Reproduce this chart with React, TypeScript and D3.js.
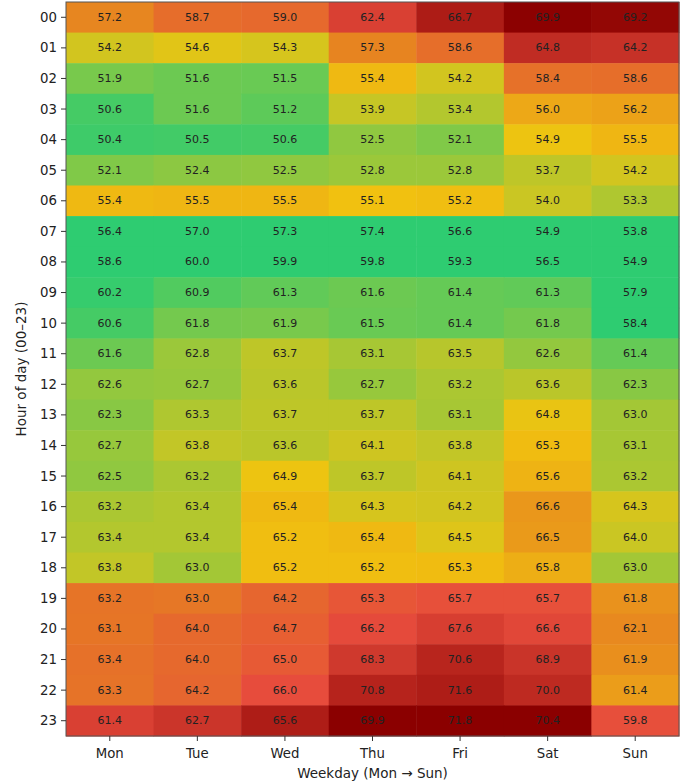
import React from "react";
import * as d3 from "d3";

const days = ["Mon", "Tue", "Wed", "Thu", "Fri", "Sat", "Sun"];
const hours = d3.range(24).map((h) => String(h).padStart(2, "0"));

// value per hour (rows) x weekday (cols)
const values: number[][] = [
  [57.2, 58.7, 59.0, 62.4, 66.7, 69.9, 69.2],
  [54.2, 54.6, 54.3, 57.3, 58.6, 64.8, 64.2],
  [51.9, 51.6, 51.5, 55.4, 54.2, 58.4, 58.6],
  [50.6, 51.6, 51.2, 53.9, 53.4, 56.0, 56.2],
  [50.4, 50.5, 50.6, 52.5, 52.1, 54.9, 55.5],
  [52.1, 52.4, 52.5, 52.8, 52.8, 53.7, 54.2],
  [55.4, 55.5, 55.5, 55.1, 55.2, 54.0, 53.3],
  [56.4, 57.0, 57.3, 57.4, 56.6, 54.9, 53.8],
  [58.6, 60.0, 59.9, 59.8, 59.3, 56.5, 54.9],
  [60.2, 60.9, 61.3, 61.6, 61.4, 61.3, 57.9],
  [60.6, 61.8, 61.9, 61.5, 61.4, 61.8, 58.4],
  [61.6, 62.8, 63.7, 63.1, 63.5, 62.6, 61.4],
  [62.6, 62.7, 63.6, 62.7, 63.2, 63.6, 62.3],
  [62.3, 63.3, 63.7, 63.7, 63.1, 64.8, 63.0],
  [62.7, 63.8, 63.6, 64.1, 63.8, 65.3, 63.1],
  [62.5, 63.2, 64.9, 63.7, 64.1, 65.6, 63.2],
  [63.2, 63.4, 65.4, 64.3, 64.2, 66.6, 64.3],
  [63.4, 63.4, 65.2, 65.4, 64.5, 66.5, 64.0],
  [63.8, 63.0, 65.2, 65.2, 65.3, 65.8, 63.0],
  [63.2, 63.0, 64.2, 65.3, 65.7, 65.7, 61.8],
  [63.1, 64.0, 64.7, 66.2, 67.6, 66.6, 62.1],
  [63.4, 64.0, 65.0, 68.3, 70.6, 68.9, 61.9],
  [63.3, 64.2, 66.0, 70.8, 71.6, 70.0, 61.4],
  [61.4, 62.7, 65.6, 69.9, 71.8, 70.4, 59.8],
];

// per-hour reference offset used for colouring
const hourOffset = [0, 0, 0, 0, 0, 0, 0, 10, 10, 10, 10, 10, 10, 10, 10, 10, 10, 10, 10, 5, 5, 5, 5, -1];

const colorStops = [50, 55, 57.5, 61, 70];
const colorRange = ["#2ecc71", "#f1c40f", "#e67e22", "#e74c3c", "#8b0000"];

const W = 688;
const H = 782;
const plot = { left: 66, top: 2, right: 679, bottom: 736 };
const FONT = "DejaVu Sans, sans-serif";

export default function App() {
  const x = d3.scaleBand<string>().domain(days).range([plot.left, plot.right]);
  const y = d3.scaleBand<string>().domain(hours).range([plot.top, plot.bottom]);
  const color = d3
    .scaleLinear<string>()
    .domain(colorStops)
    .range(colorRange)
    .interpolate(d3.interpolateRgb)
    .clamp(true);

  return (
    <svg
      width={W}
      height={H}
      style={{ position: "absolute", left: 0, top: 0, background: "#fff" }}
      fontFamily={FONT}
    >
      {values.map((row, i) =>
        row.map((v, j) => (
          <g key={`${i}-${j}`}>
            <rect
              x={x(days[j])}
              y={y(hours[i])}
              width={x.bandwidth() + 0.5}
              height={y.bandwidth() + 0.5}
              fill={color(v - hourOffset[i])}
            />
            <text
              x={(x(days[j]) as number) + x.bandwidth() / 2}
              y={(y(hours[i]) as number) + y.bandwidth() / 2}
              textAnchor="middle"
              dominantBaseline="central"
              fontSize={11}
              fill="#222"
            >
              {v.toFixed(1)}
            </text>
          </g>
        ))
      )}
      <rect
        x={plot.left}
        y={plot.top}
        width={plot.right - plot.left}
        height={plot.bottom - plot.top}
        fill="none"
        stroke="#555"
        strokeWidth={1}
      />
      {hours.map((h) => {
        const cy = (y(h) as number) + y.bandwidth() / 2;
        return (
          <g key={h}>
            <line x1={plot.left - 5} x2={plot.left} y1={cy} y2={cy} stroke="#333" />
            <text
              x={plot.left - 9}
              y={cy}
              textAnchor="end"
              dominantBaseline="central"
              fontSize={13.3}
              fill="#222"
            >
              {h}
            </text>
          </g>
        );
      })}
      {days.map((d) => {
        const cx = (x(d) as number) + x.bandwidth() / 2;
        return (
          <g key={d}>
            <line x1={cx} x2={cx} y1={plot.bottom} y2={plot.bottom + 5} stroke="#333" />
            <text x={cx} y={plot.bottom + 22} textAnchor="middle" fontSize={13.3} fill="#222">
              {d}
            </text>
          </g>
        );
      })}
      <text
        x={(plot.left + plot.right) / 2}
        y={H - 4}
        textAnchor="middle"
        fontSize={13.5}
        fill="#222"
      >
        Weekday (Mon → Sun)
      </text>
      <text
        transform={`translate(26, ${(plot.top + plot.bottom) / 2}) rotate(-90)`}
        textAnchor="middle"
        fontSize={13.5}
        fill="#222"
      >
        Hour of day (00–23)
      </text>
    </svg>
  );
}
